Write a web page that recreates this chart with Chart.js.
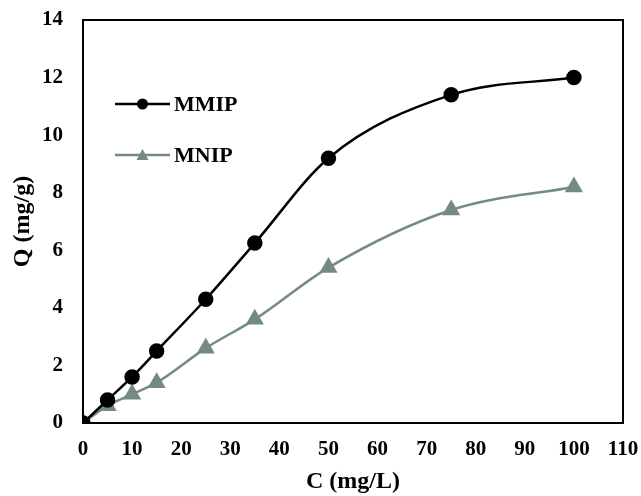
<!DOCTYPE html>
<html>
<head>
<meta charset="utf-8">
<script src="https://cdn.jsdelivr.net/npm/chart.js@4"></script>
<style>
  html, body { margin: 0; padding: 0; background: #fff; }
  #wrap { width: 641px; height: 496px; }
</style>
</head>
<body>
<div id="wrap"><canvas id="chart"></canvas></div>
<script>
const concentrations = [0, 5, 10, 15, 25, 35, 50, 75, 100];
const mmipValues = [0, 0.8, 1.6, 2.5, 4.3, 6.25, 9.2, 11.4, 12.0];
const mnipValues = [0, 0.6, 1.0, 1.4, 2.6, 3.6, 5.4, 7.4, 8.2];
const seriesNames = ["MMIP", "MNIP"];

const FONT = "'Liberation Serif', 'Times New Roman', serif";
const GREY = "#748a87";

// box around plot + legend inside the plot
const boxAndLegend = {
  id: "boxAndLegend",
  afterDraw(chart) {
    const { ctx, chartArea: a } = chart;
    ctx.save();
    ctx.strokeStyle = "#000";
    ctx.lineWidth = 2;
    ctx.strokeRect(a.left, a.top, a.right - a.left, a.bottom - a.top);

    chart.data.datasets.forEach((ds, i) => {
      const y = 104 + i * 51;
      const x0 = 115, x1 = 170;
      ctx.strokeStyle = ds.borderColor;
      ctx.lineWidth = 2.5;
      ctx.beginPath();
      ctx.moveTo(x0, y);
      ctx.lineTo(x1, y);
      ctx.stroke();
      ctx.fillStyle = ds.backgroundColor;
      const cx = (x0 + x1) / 2;
      ctx.beginPath();
      if (ds.pointStyle === "triangle") {
        ctx.moveTo(cx, y - 6);
        ctx.lineTo(cx + 6, y + 5);
        ctx.lineTo(cx - 6, y + 5);
        ctx.closePath();
      } else {
        ctx.arc(cx, y, 5.5, 0, Math.PI * 2);
      }
      ctx.fill();
      ctx.fillStyle = "#000";
      ctx.font = "bold 22px " + FONT;
      ctx.textBaseline = "middle";
      ctx.fillText(ds.label, x1 + 4, y + 1);
    });
    ctx.restore();
  },
};

new Chart(document.getElementById("chart"), {
  type: "line",
  data: {
    datasets: [
      {
        label: seriesNames[0],
        data: concentrations.map((c, i) => ({ x: c, y: mmipValues[i] })),
        borderColor: "#000",
        backgroundColor: "#000",
        borderWidth: 2.5,
        pointStyle: "circle",
        pointRadius: 6.5,
        pointHoverRadius: 6.5,
        tension: 0.4,
        cubicInterpolationMode: "monotone",
      },
      {
        label: seriesNames[1],
        data: concentrations.map((c, i) => ({ x: c, y: mnipValues[i] })),
        borderColor: GREY,
        backgroundColor: GREY,
        borderWidth: 2.5,
        pointStyle: "triangle",
        pointRadius: 8,
        pointHoverRadius: 8,
        tension: 0.4,
        cubicInterpolationMode: "monotone",
      },
    ],
  },
  options: {
    responsive: true,
    maintainAspectRatio: false,
    animation: false,
    layout: { padding: { left: 0, right: 18, top: 20, bottom: 0 } },
    plugins: { legend: { display: false }, tooltip: { enabled: false } },
    scales: {
      x: {
        type: "linear",
        min: 0,
        max: 110,
        afterFit(scale) {
          scale.height = 73;
          scale.paddingLeft = 0;
          scale.paddingRight = 0;
        },
        ticks: {
          stepSize: 10,
          color: "#000",
          padding: 14,
          font: { family: FONT, size: 21, weight: "bold" },
        },
        grid: { display: false, drawTicks: false },
        border: { display: true, color: "#000", width: 2 },
        title: {
          display: true,
          text: "C (mg/L)",
          color: "#000",
          padding: { top: 0, bottom: 0 },
          font: { family: FONT, size: 24, weight: "bold" },
        },
      },
      y: {
        min: 0,
        max: 14,
        afterFit(scale) {
          scale.width = 83;
          scale.paddingTop = 0;
          scale.paddingBottom = 0;
        },
        ticks: {
          stepSize: 2,
          color: "#000",
          padding: 20,
          font: { family: FONT, size: 21, weight: "bold" },
        },
        grid: { display: false, drawTicks: false },
        border: { display: true, color: "#000", width: 2 },
        title: {
          display: true,
          text: "Q (mg/g)",
          color: "#000",
          padding: { top: 8, bottom: 0 },
          font: { family: FONT, size: 24, weight: "bold" },
        },
      },
    },
  },
  plugins: [boxAndLegend],
});
</script>
</body>
</html>
